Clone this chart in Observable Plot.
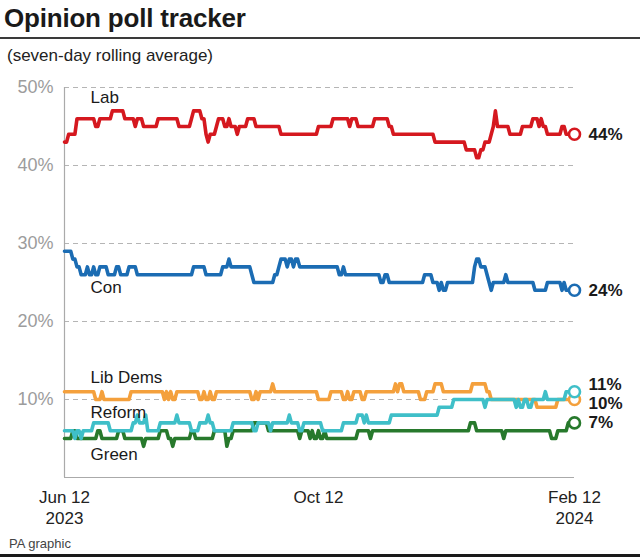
<!DOCTYPE html>
<html>
<head>
<meta charset="utf-8">
<script src="https://cdn.jsdelivr.net/npm/d3@7"></script>
<script src="https://cdn.jsdelivr.net/npm/@observablehq/plot@0.6"></script>
<style>
  body { margin: 0; background: #fff; }
  #wrap { position: relative; width: 640px; height: 559px; overflow: hidden; font-family: "Liberation Sans", Arial, sans-serif; color: #1a1a1a; }
  #title { position: absolute; left: 4px; top: 3px; font-size: 26px; line-height: 30px; font-weight: bold; letter-spacing: -0.2px; }
  #rule1 { position: absolute; left: 0; top: 37px; width: 640px; height: 2px; background: #3a3a3a; }
  #sub { position: absolute; left: 7px; top: 46px; font-size: 17px; line-height: 20px; color: #222; }
  #chart { position: absolute; left: 0; top: 75px; }
  #cap { position: absolute; left: 9px; top: 536px; font-size: 13px; line-height: 16px; color: #444; }
  #rule2 { position: absolute; left: 0; top: 554px; width: 640px; height: 3px; background: #1a1a1a; }
  #chart svg g[aria-label="y-axis tick label"] text { fill: #9c9c9c; }
</style>
</head>
<body>
<div id="wrap">
  <div id="title">Opinion poll tracker</div>
  <div id="rule1"></div>
  <div id="sub">(seven-day rolling average)</div>
  <div id="chart"></div>
  <div id="cap">PA graphic</div>
  <div id="rule2"></div>
</div>
<script>
// ---- Data ----
// Each series: [day since 12 Jun 2023, value %] — value holds until the next entry.
const startDate = Date.UTC(2023, 5, 12);
const endDay = 245; // 12 Feb 2024

const parties = ["Lab", "Con", "Lib Dems", "Reform", "Green"];
const partyColors = ["#d5181f", "#1b6cb3", "#f4a03c", "#3fbfc8", "#27792c"];

const lab = [[0,43],[2,44],[6,46],[15,45],[17,46],[23,47],[29,46],[34,45],[35,46],[38,45],[45,46],[55,45],[61,46],[62,47],[66,46],[68,44],[69,43],[70,44],[73,45],[74,46],[77,45],[79,46],[80,45],[83,44],[84,45],[88,46],[92,45],[104,44],[122,45],[129,46],[137,45],[138,46],[141,45],[149,46],[156,45],[158,44],[178,43],[193,42],[198,41],[200,42],[202,43],[205,44],[206,45],[207,47],[208,45],[214,44],[220,45],[225,46],[228,45],[229,46],[230,45],[232,44],[239,45],[241,44]];

const con = [[0,29],[4,28],[6,27],[8,26],[11,27],[12,26],[14,27],[15,26],[17,27],[21,26],[25,27],[27,26],[31,27],[35,26],[62,27],[68,26],[76,27],[79,28],[80,27],[90,26],[91,25],[101,26],[103,27],[104,28],[107,27],[108,28],[110,27],[111,28],[113,27],[132,26],[134,27],[135,26],[152,25],[154,26],[156,25],[173,26],[177,25],[180,24],[181,25],[182,24],[184,25],[197,27],[198,28],[200,27],[203,26],[204,25],[205,24],[206,25],[212,26],[213,25],[226,24],[232,25],[239,24],[240,25],[241,24]];

const libDems = [[0,11],[15,10],[18,11],[19,10],[32,11],[48,10],[49,11],[50,10],[51,11],[52,10],[54,11],[65,10],[67,11],[68,10],[70,11],[71,10],[73,11],[90,10],[92,11],[93,10],[94,11],[100,12],[101,11],[122,10],[128,11],[134,10],[136,11],[137,10],[139,11],[143,10],[145,11],[159,12],[160,11],[161,12],[163,11],[171,10],[174,11],[178,12],[182,11],[196,12],[203,11],[205,10],[227,9],[237,10]];

const reform = [[0,6],[5,5],[6,6],[8,5],[9,6],[14,7],[22,6],[33,7],[35,8],[36,7],[39,8],[40,6],[46,7],[54,8],[55,7],[61,6],[65,7],[69,8],[70,7],[72,6],[81,7],[91,6],[93,7],[99,6],[100,7],[108,8],[109,7],[113,6],[115,7],[124,6],[134,7],[141,8],[144,7],[145,8],[146,7],[157,8],[180,9],[187,10],[202,9],[203,10],[217,9],[218,10],[219,9],[221,10],[223,9],[225,10],[231,11],[232,10],[241,11]];

const green = [[0,5],[4,6],[6,5],[16,6],[18,5],[26,6],[29,5],[38,4],[39,5],[46,6],[50,5],[52,4],[53,5],[61,6],[63,5],[72,6],[78,4],[79,5],[81,6],[91,7],[98,6],[113,5],[114,6],[118,5],[119,6],[120,5],[122,6],[123,5],[125,6],[126,5],[141,6],[147,5],[148,6],[195,7],[198,6],[211,5],[212,6],[234,5],[237,6],[242,7]];

const xTickDays = [0, 122, 245];
const xTickLabels = ["Jun 12\n2023", "Oct 12", "Feb 12\n2024"];
const yTicks = [10, 20, 30, 40, 50];

// ---- Layout (label placement) ----
const seriesLabelPos = {"Lab": [12.5, 48.7], "Con": [12.5, 24.4], "Lib Dems": [12.5, 12.8], "Reform": [12.5, 8.3], "Green": [12.5, 2.95]};
const endLabelShift = {"Lab": 0, "Con": 0, "Lib Dems": -0.5, "Reform": 0.9, "Green": 0};

// ---- Build ----
const DAY = 864e5;
const dayDate = d => new Date(startDate + d * DAY);
const seriesBP = [lab, con, libDems, reform, green];

function expand(bp, party) {
  const out = [];
  let k = 0;
  for (let i = 0; i <= endDay; i++) {
    while (k + 1 < bp.length && bp[k + 1][0] <= i) k++;
    out.push({party, date: dayDate(i), value: bp[k][1]});
  }
  return out;
}
const series = parties.map((p, i) => expand(seriesBP[i], p));
const ends = series.map((s, i) => ({...s[s.length - 1], color: partyColors[i], ly: s[s.length - 1].value + endLabelShift[parties[i]]}));
const labels = parties.map((p) => ({party: p, date: dayDate(seriesLabelPos[p][0]), y: seriesLabelPos[p][1]}));
const tickDates = xTickDays.map(dayDate);

const drawOrder = [0, 1, 2, 4, 3];

const chart = Plot.plot({
  width: 640,
  height: 460,
  marginLeft: 64,
  marginRight: 66,
  marginTop: 12,
  marginBottom: 58,
  style: {fontFamily: "'Liberation Sans', Arial, sans-serif", background: "transparent", overflow: "visible"},
  x: {type: "utc", domain: [dayDate(0), dayDate(endDay)]},
  y: {domain: [0, 50]},
  marks: [
    Plot.gridY(yTicks, {stroke: "#b5b5b5", strokeOpacity: 1, strokeDasharray: "5,4", strokeWidth: 1}),
    Plot.ruleY([0], {stroke: "#aaaaaa", strokeWidth: 1.2}),
    Plot.ruleX([dayDate(0)], {y1: 0, y2: 50, stroke: "#aaaaaa", strokeWidth: 1.2}),
    Plot.axisY(yTicks, {tickSize: 0, tickPadding: 11, fontSize: 18, tickFormat: d => d + "%", fill: "#9c9c9c"}),
    Plot.axisX(tickDates, {tickSize: 0, tickPadding: 11, fontSize: 17, lineHeight: 1.22, fill: "#222",
      tickFormat: (d, i) => xTickLabels[i]}),
    ...drawOrder.map(i => Plot.line(series[i], {x: "date", y: "value", stroke: partyColors[i], strokeWidth: 3.6, curve: "linear", strokeLinejoin: "round"})),
    Plot.dot(ends, {x: "date", y: "value", r: 5.5, fill: "white", stroke: "color", strokeWidth: 2.6}),
    Plot.text(ends, {x: "date", y: "ly", text: d => d.value + "%", dx: 14, textAnchor: "start", fontSize: 17, fontWeight: "bold", fill: "#1a1a1a"}),
    Plot.text(labels, {x: "date", y: "y", text: "party", textAnchor: "start", fontSize: 17, fill: "#1a1a1a"})
  ]
});
document.getElementById("chart").appendChild(chart);
</script>
</body>
</html>
